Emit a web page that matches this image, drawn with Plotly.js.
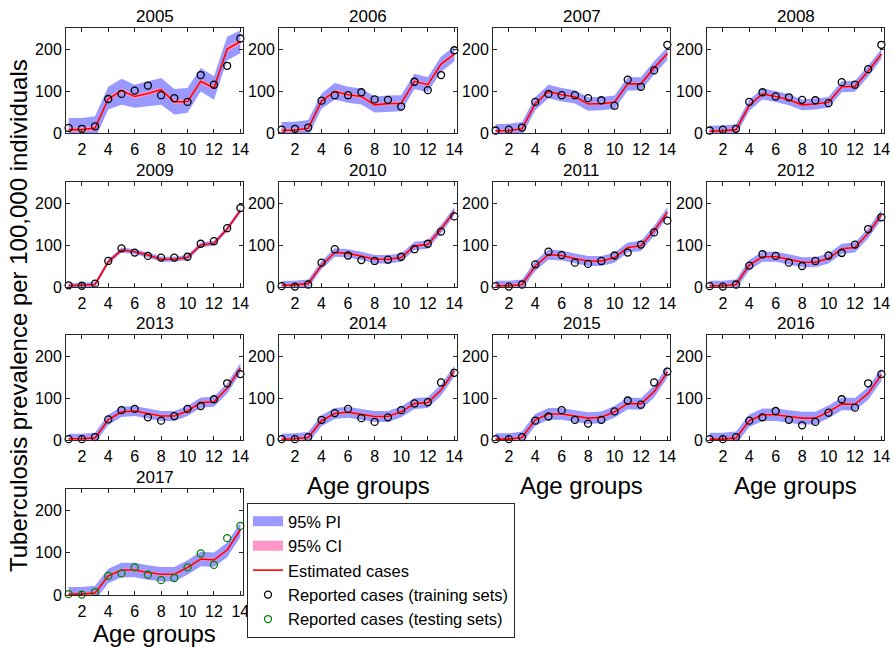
<!DOCTYPE html>
<html>
<head>
<meta charset="utf-8">
<script src="https://cdn.plot.ly/plotly-3.0.1.min.js"></script>
<style>
  html, body { margin: 0; padding: 0; background: #fff; }
  #chart { width: 894px; height: 647px; }
</style>
</head>
<body>
<div id="chart"></div>
<script>
// Tuberculosis prevalence per 100,000 individuals by age group, 2005-2017
const years = [2005, 2006, 2007, 2008, 2009, 2010, 2011, 2012, 2013, 2014, 2015, 2016, 2017];
const ageGroups = [1, 2, 3, 4, 5, 6, 7, 8, 9, 10, 11, 12, 13, 14];
const xTickVals = [2, 4, 6, 8, 10, 12, 14];
const yTickVals = [0, 100, 200];
const testingYear = 2017;

// Model estimate (red line)
const estimated = [
  [8, 8, 12, 81, 101, 87, 94, 103, 74, 75, 123, 107, 200, 218],
  [6, 7, 11, 76, 99, 91, 87, 67, 70, 71, 123, 115, 164, 188],
  [5, 6, 10, 70, 99, 91, 86, 69, 70, 73, 117, 117, 155, 189],
  [4, 5, 8, 66, 93, 87, 79, 67, 69, 73, 110, 111, 147, 188],
  [3, 4, 6, 60, 88, 84, 76, 66, 66, 70, 100, 104, 138, 182],
  [4, 5, 8, 52, 82, 80, 74, 66, 66, 70, 98, 101, 138, 180],
  [3, 3, 6, 50, 77, 75, 68, 62, 62, 70, 94, 98, 134, 178],
  [3, 3, 6, 52, 72, 72, 66, 59, 59, 68, 91, 94, 128, 172],
  [3, 3, 5, 48, 67, 69, 63, 57, 57, 69, 89, 91, 123, 171],
  [2, 3, 6, 46, 63, 66, 61, 56, 56, 67, 87, 89, 119, 164],
  [2, 2, 6, 48, 62, 62, 57, 52, 54, 67, 87, 86, 115, 162],
  [2, 2, 5, 46, 60, 60, 56, 52, 52, 67, 86, 85, 111, 155],
  [2, 2, 5, 45, 59, 59, 53, 49, 49, 65, 85, 83, 106, 154]
];

// Reported cases (circles)
const reported = [
  [12, 10, 16, 81, 93, 101, 113, 90, 83, 74, 138, 115, 160, 225],
  [8, 10, 13, 77, 90, 90, 97, 80, 79, 63, 122, 102, 138, 197],
  [6, 8, 13, 74, 93, 90, 90, 83, 78, 65, 127, 110, 149, 210],
  [6, 8, 10, 74, 97, 87, 85, 79, 78, 71, 121, 115, 152, 210],
  [4, 3, 8, 62, 92, 82, 74, 70, 70, 72, 103, 109, 140, 188],
  [2, 1, 6, 58, 90, 75, 64, 62, 65, 72, 90, 103, 132, 168],
  [2, 1, 6, 54, 84, 76, 58, 55, 62, 75, 82, 101, 130, 158],
  [2, 1, 6, 51, 78, 74, 58, 50, 62, 75, 81, 101, 138, 166],
  [2, 2, 7, 49, 71, 74, 54, 46, 57, 74, 81, 97, 135, 157],
  [2, 2, 7, 48, 64, 74, 52, 43, 54, 71, 87, 90, 137, 160],
  [2, 2, 7, 46, 56, 71, 48, 39, 48, 68, 94, 84, 137, 163],
  [2, 2, 7, 46, 54, 69, 48, 35, 43, 65, 97, 77, 135, 157],
  [2, 1, 7, 45, 51, 65, 48, 35, 40, 65, 98, 71, 134, 163]
];

// 95% prediction interval bounds
const piUpper = [
  [36, 36, 40, 110, 129, 115, 123, 131, 105, 107, 155, 135, 229, 244],
  [26, 27, 31, 94, 119, 110, 106, 87, 89, 90, 141, 133, 182, 206],
  [21, 22, 26, 86, 115, 107, 102, 85, 86, 89, 133, 133, 171, 204],
  [17, 18, 21, 79, 106, 100, 92, 80, 82, 86, 123, 124, 160, 200],
  [9, 10, 12, 66, 94, 90, 82, 72, 72, 76, 106, 110, 144, 188],
  [14, 15, 18, 62, 92, 90, 84, 76, 76, 80, 108, 111, 148, 190],
  [15, 15, 18, 62, 89, 87, 80, 74, 74, 82, 106, 110, 146, 190],
  [15, 15, 18, 64, 84, 84, 78, 71, 71, 80, 103, 106, 140, 184],
  [15, 15, 17, 60, 79, 81, 75, 69, 69, 81, 101, 103, 135, 183],
  [15, 16, 19, 59, 76, 79, 74, 69, 69, 80, 100, 102, 132, 177],
  [16, 16, 20, 62, 76, 76, 71, 66, 68, 81, 101, 100, 129, 176],
  [17, 17, 20, 61, 75, 75, 71, 67, 67, 82, 101, 100, 126, 170],
  [19, 19, 22, 62, 76, 76, 70, 66, 66, 82, 102, 100, 123, 171]
];
const piLower = [
  [-18, -18, -14, 56, 67, 60, 63, 67, 44, 48, 99, 79, 173, 190],
  [-12, -12, -8, 58, 79, 72, 68, 49, 51, 52, 105, 97, 146, 170],
  [-10, -10, -6, 54, 83, 75, 70, 53, 54, 57, 101, 101, 139, 174],
  [-9, -8, -5, 53, 80, 74, 66, 54, 56, 60, 97, 98, 134, 176],
  [-3, -2, 0, 54, 82, 78, 70, 60, 60, 64, 94, 98, 132, 176],
  [-6, -5, -2, 42, 72, 70, 64, 56, 56, 60, 88, 91, 128, 170],
  [-9, -9, -6, 38, 65, 63, 56, 50, 50, 58, 82, 86, 122, 166],
  [-9, -9, -6, 40, 60, 60, 54, 47, 47, 56, 79, 82, 116, 160],
  [-9, -9, -7, 36, 55, 57, 51, 45, 45, 57, 77, 79, 111, 159],
  [-11, -10, -7, 33, 50, 53, 48, 43, 43, 54, 74, 76, 106, 151],
  [-12, -12, -8, 34, 48, 48, 43, 38, 40, 53, 73, 72, 101, 148],
  [-13, -13, -10, 31, 45, 45, 41, 37, 37, 52, 71, 70, 96, 140],
  [-15, -15, -12, 28, 42, 42, 36, 32, 32, 48, 68, 66, 89, 137]
];

// 95% confidence interval bounds
const ciUpper = [
  [13, 13, 17, 86, 106, 92, 99, 108, 79, 80, 128, 112, 206, 224],
  [10, 11, 15, 80, 103, 95, 91, 71, 74, 75, 127, 119, 168, 192],
  [8, 9, 13, 73, 102, 94, 89, 72, 73, 76, 120, 120, 158, 192],
  [7, 8, 11, 69, 96, 90, 82, 70, 72, 76, 113, 114, 150, 191],
  [5, 6, 8, 62, 90, 86, 78, 68, 68, 72, 102, 106, 140, 184],
  [7, 8, 11, 55, 85, 83, 77, 69, 69, 73, 101, 104, 141, 183],
  [6, 6, 9, 53, 80, 78, 71, 65, 65, 73, 97, 101, 137, 181],
  [6, 6, 9, 55, 75, 75, 69, 62, 62, 71, 94, 97, 131, 175],
  [6, 6, 8, 51, 70, 72, 66, 60, 60, 72, 92, 94, 126, 174],
  [5, 6, 9, 49, 66, 69, 64, 59, 59, 70, 90, 92, 122, 167],
  [5, 5, 9, 51, 65, 65, 60, 55, 57, 70, 90, 89, 118, 165],
  [5, 5, 8, 49, 63, 63, 59, 55, 55, 70, 89, 88, 114, 158],
  [5, 5, 8, 48, 62, 62, 56, 52, 52, 68, 88, 86, 109, 157]
];
const ciLower = [
  [3, 3, 7, 76, 96, 82, 89, 98, 69, 70, 118, 102, 194, 212],
  [2, 3, 7, 72, 95, 87, 83, 63, 66, 67, 119, 111, 160, 184],
  [2, 3, 7, 67, 96, 88, 83, 66, 67, 70, 114, 114, 152, 186],
  [1, 2, 5, 63, 90, 84, 76, 64, 66, 70, 107, 108, 144, 185],
  [1, 2, 4, 58, 86, 82, 74, 64, 64, 68, 98, 102, 136, 180],
  [1, 2, 5, 49, 79, 77, 71, 63, 63, 67, 95, 98, 135, 177],
  [0, 0, 3, 47, 74, 72, 65, 59, 59, 67, 91, 95, 131, 175],
  [0, 0, 3, 49, 69, 69, 63, 56, 56, 65, 88, 91, 125, 169],
  [0, 0, 2, 45, 64, 66, 60, 54, 54, 66, 86, 88, 120, 168],
  [-1, 0, 3, 43, 60, 63, 58, 53, 53, 64, 84, 86, 116, 161],
  [-1, -1, 3, 45, 59, 59, 54, 49, 51, 64, 84, 83, 112, 159],
  [-1, -1, 2, 43, 57, 57, 53, 49, 49, 64, 83, 82, 108, 152],
  [-1, -1, 2, 42, 56, 56, 50, 46, 46, 62, 82, 80, 103, 151]
];

// ---- Layout geometry (pixels in a 894 x 647 figure) ----
const W = 894, H = 647;
const colPx = [[66, 243], [279, 457], [493, 670], [707, 884]];
const rowPx = [[28, 133], [182, 287], [335, 440], [489, 595]];
// panels carrying an "Age groups" label, with its offset below the axis (px)
const xLabelGaps = { 9: 45, 10: 45, 11: 45, 12: 38 };

const FONT = 'Liberation Sans, Arial, Helvetica, sans-serif';
const INK = '#262626';
const PI_COLOR = 'rgb(153,153,255)';
const CI_COLOR = 'rgb(255,150,200)';
const EST_COLOR = 'rgb(255,0,0)';
const TRAIN_COLOR = '#000000';
const TEST_COLOR = 'rgb(0,128,0)';

// closed polygon: upper bound left-to-right, lower bound right-to-left
function band(upper, lower) {
  return {
    x: ageGroups.concat(ageGroups.slice().reverse()),
    y: upper.concat(lower.slice().reverse())
  };
}

const traces = [];

// Legend keys for the two shaded intervals (drawn as wide swatches)
traces.push({
  type: 'scatter', mode: 'lines', x: [null], y: [null],
  line: { color: PI_COLOR, width: 15 }, name: '95% PI', legendgroup: 'pi', hoverinfo: 'skip'
});
traces.push({
  type: 'scatter', mode: 'lines', x: [null], y: [null],
  line: { color: CI_COLOR, width: 15 }, name: '95% CI', legendgroup: 'ci', hoverinfo: 'skip'
});

const layout = {
  width: W, height: H,
  margin: { l: 0, r: 0, t: 0, b: 0 },
  paper_bgcolor: '#fff', plot_bgcolor: '#fff',
  font: { family: FONT, color: '#000', size: 16 },
  showlegend: true,
  legend: {
    x: 247 / W, y: 1 - 503 / H, xanchor: 'left', yanchor: 'top',
    bordercolor: INK, borderwidth: 1, bgcolor: '#fff',
    font: { family: FONT, size: 16.5, color: '#000' },
    traceorder: 'grouped', tracegroupgap: 0, itemwidth: 30
  },
  annotations: []
};

years.forEach((year, i) => {
  const col = i % 4, row = Math.floor(i / 4);
  const xa = i === 0 ? 'x' : 'x' + (i + 1);
  const ya = i === 0 ? 'y' : 'y' + (i + 1);
  const first = i === 0;
  const isTest = year === testingYear;

  const pi = band(piUpper[i], piLower[i]);
  traces.push({
    type: 'scatter', mode: 'lines', x: pi.x, y: pi.y, xaxis: xa, yaxis: ya,
    fill: 'toself', fillcolor: PI_COLOR, line: { width: 0, color: PI_COLOR },
    name: '95% PI', legendgroup: 'pi', showlegend: false, hoverinfo: 'skip'
  });
  const ci = band(ciUpper[i], ciLower[i]);
  traces.push({
    type: 'scatter', mode: 'lines', x: ci.x, y: ci.y, xaxis: xa, yaxis: ya,
    fill: 'toself', fillcolor: CI_COLOR, line: { width: 0, color: CI_COLOR },
    name: '95% CI', legendgroup: 'ci', showlegend: false, hoverinfo: 'skip'
  });
  traces.push({
    type: 'scatter', mode: 'lines', x: ageGroups, y: estimated[i], xaxis: xa, yaxis: ya,
    line: { color: EST_COLOR, width: 1.6 },
    name: 'Estimated cases', legendgroup: 'est', showlegend: first
  });
  traces.push({
    type: 'scatter', mode: 'markers', x: ageGroups, y: reported[i], xaxis: xa, yaxis: ya,
    cliponaxis: false,
    marker: { symbol: 'circle-open', size: 7, color: isTest ? TEST_COLOR : TRAIN_COLOR,
              line: { width: 1.3, color: isTest ? TEST_COLOR : TRAIN_COLOR } },
    name: isTest ? 'Reported cases (testing sets)' : 'Reported cases (training sets)',
    legendgroup: isTest ? 'test' : 'train', showlegend: first || isTest
  });

  const axisCommon = {
    showline: true, linecolor: INK, linewidth: 1, mirror: 'ticks',
    ticks: 'inside', ticklen: 4, tickwidth: 1, tickcolor: INK,
    showgrid: false, zeroline: false, fixedrange: true,
    tickfont: { family: FONT, size: 16, color: '#000' }
  };
  const xKey = i === 0 ? 'xaxis' : 'xaxis' + (i + 1);
  const yKey = i === 0 ? 'yaxis' : 'yaxis' + (i + 1);
  layout[xKey] = Object.assign({}, axisCommon, {
    domain: [colPx[col][0] / W, colPx[col][1] / W],
    anchor: ya, range: [0.8, 14.2], tickmode: 'array', tickvals: xTickVals,
    ticklabelstandoff: 2
  });
  layout[yKey] = Object.assign({}, axisCommon, {
    domain: [1 - rowPx[row][1] / H, 1 - rowPx[row][0] / H],
    anchor: xa, range: [0, 250], tickmode: 'array', tickvals: yTickVals
  });

  // panel title (year)
  layout.annotations.push({
    text: String(year), xref: 'paper', yref: 'paper',
    x: (colPx[col][0] + colPx[col][1]) / 2 / W, y: 1 - rowPx[row][0] / H,
    xanchor: 'center', yanchor: 'bottom', showarrow: false, yshift: 0,
    font: { family: FONT, size: 17, color: '#000' }
  });

  // x-axis label under the lowest panel of each column
  if (i in xLabelGaps) {
    layout.annotations.push({
      text: 'Age groups', xref: 'paper', yref: 'paper',
      x: (colPx[col][0] + colPx[col][1]) / 2 / W, y: 1 - (rowPx[row][1] + xLabelGaps[i]) / H,
      xanchor: 'center', yanchor: 'middle', showarrow: false,
      font: { family: FONT, size: 24, color: '#000' }
    });
  }
});

layout.annotations.push({
  text: 'Tuberculosis prevalence per 100,000 individuals',
  xref: 'paper', yref: 'paper', x: 18 / W, y: 1 - 316 / H,
  xanchor: 'center', yanchor: 'middle', textangle: -90, showarrow: false,
  font: { family: FONT, size: 24, color: '#000' }
});

Plotly.newPlot('chart', traces, layout, { staticPlot: true, displayModeBar: false });
</script>
</body>
</html>
